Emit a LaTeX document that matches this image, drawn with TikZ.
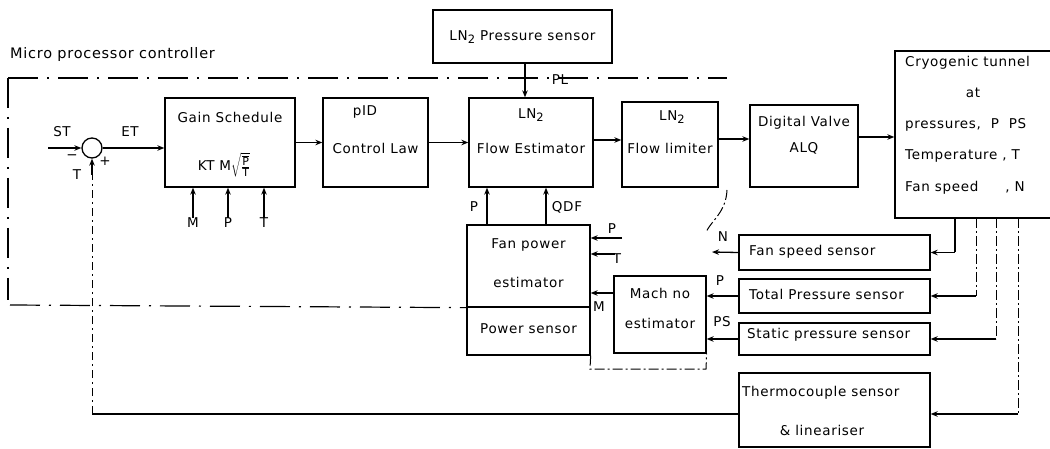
\documentclass[tikz,border=0pt]{standalone}
\usepackage{fontspec}
\setmainfont{DejaVu Sans}[LetterSpace=5]
\usetikzlibrary{arrows.meta,calc}
\newcommand{\lntwo}{LN\raisebox{-0.45ex}{\fontsize{11.5}{11.5}\selectfont 2}}
\newcommand{\fs}[1]{\hbox{\fontsize{11}{11}\selectfont #1}}
\begin{document}
\begin{tikzpicture}[x=1pt,y=-1pt,
  every node/.style={font=\fontsize{13.5}{15}\selectfont, inner sep=0pt},
  blk/.style={draw, line width=1.3pt},
  wire/.style={line width=1.3pt},
  arr/.style={line width=1.3pt, -{Stealth[length=7pt,width=5.5pt]}},
  bnd/.style={line width=1.2pt, dash pattern=on 30pt off 9pt on 2pt off 9pt},
  fbd/.style={line width=1pt, dash pattern=on 8pt off 4pt on 2pt off 4pt},
  sdash/.style={line width=1pt, dash pattern=on 10pt off 3pt on 2pt off 3pt}]
\useasboundingbox (0,0) rectangle (1050,449);

% boxes
\node[blk, minimum width=130, minimum height=89] (gain) at (230,142.5) {};
\node[blk, minimum width=105, minimum height=89] (pid) at (375.5,142.5) {};
\node[blk, minimum width=124, minimum height=89] (fe) at (531,142.5) {};
\node[blk, minimum width=179, minimum height=53] (lps) at (522.5,36.5) {};
\node[blk, minimum width=96, minimum height=85] (fl) at (670,144.5) {};
\node[blk, minimum width=108, minimum height=82] (dv) at (804,146) {};
\node[blk, minimum width=165, minimum height=167] (cryo) at (977.5,134.5) {};
\node[blk, minimum width=123, minimum height=82] (fpe) at (528.5,266) {};
\node[blk, minimum width=123, minimum height=48] (ps) at (528.5,331) {};
\node[blk, minimum width=92, minimum height=77] (mach) at (660,314.5) {};
\node[blk, minimum width=191, minimum height=35] (fss) at (834.5,252.5) {};
\node[blk, minimum width=191, minimum height=34] (tps) at (834.5,296) {};
\node[blk, minimum width=191, minimum height=32] (sps) at (834.5,339) {};
\node[blk, minimum width=191, minimum height=74] (tc) at (834.5,410) {};
\node[draw, circle, line width=1.3pt, minimum size=20] (sum) at (92,148) {};

% texts
\node[anchor=west, font=\fontsize{14.5}{16}\selectfont] (title) at (10,55) {Micro processor controller};
\node (gaint) at (230,117) {Gain Schedule};
\node (gainf) at (224,165) {KT M$\sqrt{\frac{\overline{\fs{P}}}{\fs{T}}}$};
\node (pidt1) at (365,112) {pID};
\node (pidt2) at (375.5,148) {Control Law};
\node (fet1) at (531,115) {\lntwo};
\node (fet2) at (531,148) {Flow Estimator};
\node (lpst) at (522.5,37) {\lntwo\ Pressure sensor};
\node (flt1) at (672,117) {\lntwo};
\node (flt2) at (670,148) {Flow limiter};
\node (dvt1) at (804,123) {Digital Valve};
\node (dvt2) at (804,148) {ALQ};
\node[anchor=west] (cr1) at (905,63) {Cryogenic tunnel};
\node (cr2) at (973,93) {at};
\node[anchor=west] (cr3) at (905,125) {pressures,\ \ P\ \ PS};
\node[anchor=west] (cr4) at (905,156) {Temperature , T};
\node[anchor=west] (cr5) at (905,188) {Fan speed\qquad , N};
\node (fpet1) at (528.5,245) {Fan power};
\node (fpet2) at (528.5,282) {estimator};
\node (pst) at (528.5,329) {Power sensor};
\node (macht1) at (660,293) {Mach no};
\node (macht2) at (660,323) {estimator};
\node[anchor=west] (fsst) at (749,252) {Fan speed sensor};
\node[anchor=west] (tpst) at (749,294) {Total Pressure sensor};
\node[anchor=west] (spst) at (747,335) {Static pressure sensor};
\node[anchor=west] (tct1) at (742,393) {Thermocouple sensor};
\node (tct2) at (822,430) {\& lineariser};

% labels
\node (lst) at (62,132) {ST};
\node (let) at (130,132) {ET};
\node (lmin) at (72,157) {−};
\node (lt) at (77,175) {T};
\node (lplus) at (105,161) {+};
\node (lm) at (193,223) {M};
\node (lp) at (228,223) {P};
\node (ltt) at (264,223) {T};
\node (lpl) at (560,80) {PL};
\node (lpf) at (474,207) {P};
\node (lqdf) at (567,207) {QDF};
\node (lp2) at (612,229) {P};
\node (lt2) at (617,259) {T};
\node (lm2) at (599,307) {M};
\node (ln) at (723,237) {N};
\node (lp3) at (720,281) {P};
\node (lps3) at (722,322) {PS};

% coordinates
\coordinate (stin) at (48,148);
\coordinate (fb) at (92,414);
\coordinate (pin) at (622,238);
\coordinate (tin) at (615,254);
\coordinate (nend) at (712,252);
\coordinate (c1) at (955,218);
\coordinate (c2) at (976,218);
\coordinate (c3) at (996,218);
\coordinate (c4) at (1018,218);

% boundary of the controller
\draw[bnd] (8,78) -- (727,78);
\draw[bnd] (8,78) -- (8,300);
\draw[bnd] (10,305) -- (fpe.south west);
\draw[sdash] (ps.south east) -- (590,369) -- (706,369) -- (mach.south east);
\draw[sdash] (727,190) .. controls (726,212) and (712,220) .. (706,232);

% forward path
\draw[arr] (stin) -- (sum.west);
\draw[arr] (sum.east) -- (gain.west |- sum.east);
\draw[arr] (gain.east) -- (pid.west);
\draw[arr] (pid.east) -- (fe.west);
\draw[arr] (fe.east |- 0,140) -- (fl.west |- 0,140);
\draw[arr] (fl.east |- 0,139) -- (dv.west |- 0,139);
\draw[arr] (dv.east |- 0,137) -- (cryo.west |- 0,137);
\draw[arr] (lps.south -| 525,0) -- (fe.north -| 525,0);

% gain schedule inputs
\draw[arr] (lm.north) -- (lm.north |- gain.south);
\draw[arr] (lp.north) -- (lp.north |- gain.south);
\draw[arr] (ltt.north) -- (ltt.north |- gain.south);

% fan power estimator
\draw[arr] (fpe.north -| 487,0) -- (fe.south -| 487,0);
\draw[arr] (fpe.north -| 546,0) -- (fe.south -| 546,0);
\draw[arr] (pin) -- (fpe.east |- pin);
\draw[arr] (tin) -- (fpe.east |- tin);
\draw[arr] (mach.west |- 0,293) -- (fpe.east |- 0,293);

% sensors
\draw[arr] (fss.west) -- (nend);
\draw[arr] (tps.west) -- (mach.east |- tps.west);
\draw[arr] (sps.west) -- (mach.east |- sps.west);
\draw[wire] (c1) -- (c1 |- fss.east);
\draw[arr] (c1 |- fss.east) -- (fss.east);
\draw[sdash] (c2) -- (c2 |- tps.east);
\draw[arr] (c2 |- tps.east) -- (tps.east);
\draw[sdash] (c3) -- (c3 |- sps.east);
\draw[arr] (c3 |- sps.east) -- (sps.east);
\draw[sdash] (c4) -- (c4 |- fb);
\draw[arr] (c4 |- fb) -- (tc.east |- fb);

% feedback
\draw[wire] (tc.west |- fb) -- (fb);
\draw[fbd] (fb) -- (92,175);
\draw[arr] (92,175) -- (sum.south);
\end{tikzpicture}
\end{document}
